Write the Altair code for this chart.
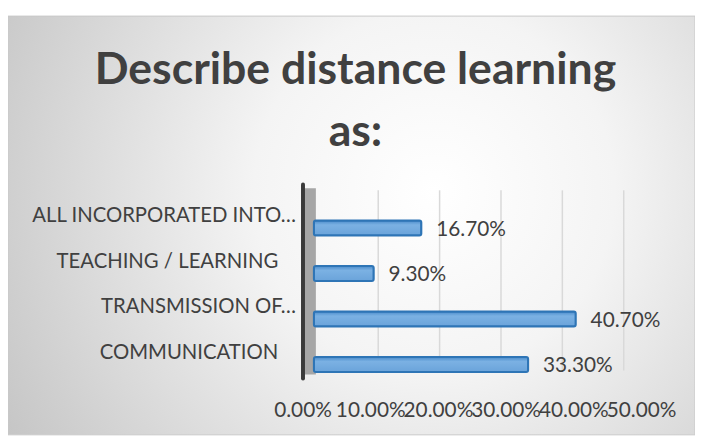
import altair as alt
import pandas as pd

# ---- data ----
categories = [
    "ALL INCORPORATED INTO…",
    "TEACHING / LEARNING",
    "TRANSMISSION OF…",
    "COMMUNICATION",
]
values = [0.167, 0.093, 0.407, 0.333]
tick_values = [0.0, 0.1, 0.2, 0.3, 0.4, 0.5]
grid_values = [0.1, 0.2, 0.3, 0.4, 0.5]
title_lines = ["Describe distance learning", "as:"]

W, H = 694, 423
FONT = "Lato"
TXT = "#404040"

df = pd.DataFrame({"cat": categories, "value": values})
ticks = pd.DataFrame({"t": tick_values})
grid = pd.DataFrame({"t": grid_values})
one = pd.DataFrame({"a": [0]})

yscale = alt.Scale(domain=categories, range=[191, 375], paddingInner=0.67, paddingOuter=0.335)
xscale = alt.Scale(domain=[0, 0.5], range=[309, 634])

bg = alt.Chart(one).mark_rect(
    fill=alt.RadialGradient(
        gradient="radial",
        x1=0.62, y1=0.45, r1=0.0,
        x2=0.62, y2=0.45, r2=0.75,
        stops=[
            alt.GradientStop(offset=0.0, color="#ffffff"),
            alt.GradientStop(offset=0.35, color="#f4f4f4"),
            alt.GradientStop(offset=1.0, color="#c2c2c2"),
        ],
    ),
    stroke="#c8c8c8",
    strokeWidth=1,
).encode(x=alt.value(0), x2=alt.value(W), y=alt.value(0), y2=alt.value(H))

title = alt.Chart(one).mark_text(
    font="Lato", fontWeight="bold", fontSize=45, color=TXT,
    align="center", baseline="alphabetic", lineHeight=62,
).encode(x=alt.value(351), y=alt.value(69), text=alt.value(title_lines))

gridlines = alt.Chart(grid).mark_rule(color="#d9d9d9", strokeWidth=1.5).encode(
    x=alt.X("t:Q", scale=alt.Scale(domain=[0, 0.5], range=[312, 622]), axis=None),
    y=alt.value(176),
    y2=alt.value(358),
)

wall = alt.Chart(one).mark_rect(color="#a6a6a6").encode(
    x=alt.value(299), x2=alt.value(311), y=alt.value(174), y2=alt.value(362)
)
axisline = alt.Chart(one).mark_rule(color="#3a3a3a", strokeWidth=4, strokeCap="round").encode(
    x=alt.value(298), y=alt.value(170), y2=alt.value(366)
)

bar_fill = alt.LinearGradient(
    gradient="linear", x1=0, y1=0, x2=0, y2=1,
    stops=[
        alt.GradientStop(offset=0.0, color="#4a8bcb"),
        alt.GradientStop(offset=0.3, color="#7bb1e3"),
        alt.GradientStop(offset=1.0, color="#6aa3da"),
    ],
)

bars = alt.Chart(df).mark_bar(
    fill=bar_fill, stroke="#2e75b6", strokeWidth=2, cornerRadius=2
).encode(
    y=alt.Y("cat:N", scale=yscale, sort=categories, axis=None),
    x=alt.X("value:Q", scale=xscale, axis=None),
)

bar_labels = alt.Chart(df).mark_text(
    align="left", baseline="middle", dx=15, dy=2, font=FONT, fontSize=21, color=TXT
).encode(
    y=alt.Y("cat:N", scale=yscale, sort=categories, axis=None),
    x=alt.X("value:Q", scale=xscale, axis=None),
    text=alt.Text("value:Q", format=".2%"),
)

cat_base = alt.Chart(df).encode(
    y=alt.Y("cat:N", scale=yscale, sort=categories, axis=None),
    x=alt.value(291),
    text="cat:N",
)
cat_labels_trunc = cat_base.mark_text(
    align="right", baseline="middle", dy=-12, font=FONT, fontSize=20.5, color=TXT
).transform_filter("indexof(datum.cat, '…') >= 0")
cat_labels_full = cat_base.mark_text(
    align="right", baseline="middle", dx=-18, dy=-12, font=FONT, fontSize=20.5, color=TXT
).transform_filter("indexof(datum.cat, '…') < 0")

tick_labels = alt.Chart(ticks).mark_text(
    align="center", baseline="middle", font=FONT, fontSize=21, color=TXT
).encode(
    x=alt.X("t:Q", scale=alt.Scale(domain=[0, 0.5], range=[298, 640]), axis=None),
    y=alt.value(399),
    text=alt.Text("t:Q", format=".2%"),
)

chart = alt.layer(
    bg, title, gridlines, wall, bars, axisline, bar_labels,
    cat_labels_trunc, cat_labels_full, tick_labels
).resolve_scale(x="independent").properties(
    width=W, height=H,
    padding={"top": 6, "left": 0, "right": 0, "bottom": 0},
    autosize=alt.AutoSizeParams(type="none"),
).configure_view(stroke=None)

chart.save("out.html", embed_options={"renderer": "svg", "actions": False})
